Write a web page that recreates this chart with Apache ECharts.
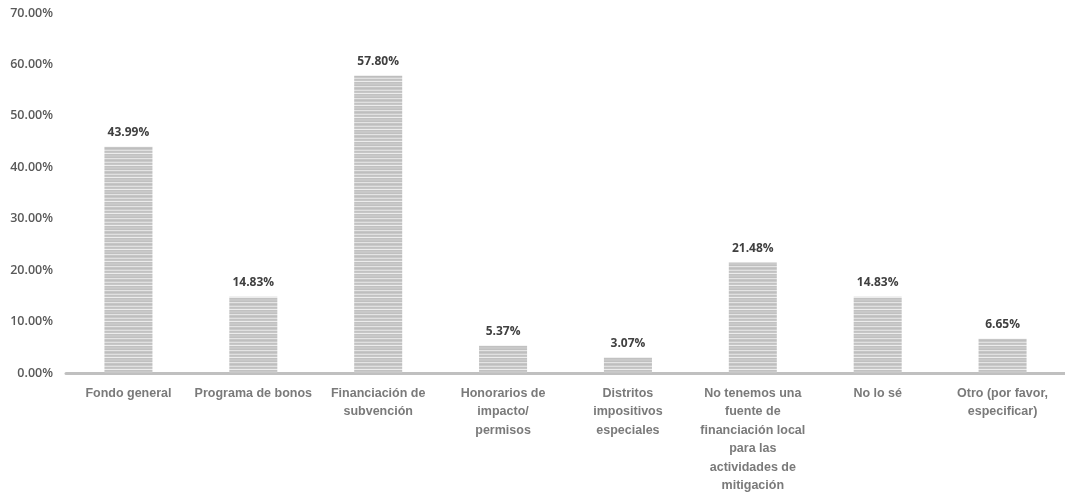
<!DOCTYPE html>
<html>
<head>
<meta charset="utf-8">
<script src="https://cdn.jsdelivr.net/npm/echarts@6/dist/echarts.min.js"></script>
<style>
  html, body { margin: 0; padding: 0; background: #fff; }
  #chart { width: 1065px; height: 492px; }
</style>
</head>
<body>
<div id="chart"></div>
<script>
const categories = [
  'Fondo general',
  'Programa de bonos',
  'Financiación de\nsubvención',
  'Honorarios de\nimpacto/\npermisos',
  'Distritos\nimpositivos\nespeciales',
  'No tenemos una\nfuente de\nfinanciación local\npara las\nactividades de\nmitigación',
  'No lo sé',
  'Otro (por favor,\nespecificar)'
];
const values = [43.99, 14.83, 57.80, 5.37, 3.07, 21.48, 14.83, 6.65];

// striped gray fill like the original
function stripes() {
  const c = document.createElement('canvas');
  c.width = 8; c.height = 12;
  const ctx = c.getContext('2d');
  const rows = ['#c8c8c8', '#c0c0c0', '#e4e4e4', '#c6c6c6', '#bebebe', '#cacaca',
                '#e0e0e0', '#c2c2c2', '#c7c7c7', '#ececec', '#c1c1c1', '#c9c9c9'];
  rows.forEach(function (col, i) {
    ctx.fillStyle = col;
    ctx.fillRect(0, i, 8, 1);
  });
  return c;
}

const chart = echarts.init(document.getElementById('chart'));
chart.setOption({
  animation: false,
  backgroundColor: '#fff',
  grid: { left: 66, right: 0, top: 13, bottom: 119, containLabel: false, outerBoundsMode: 'none' },
  xAxis: {
    type: 'category',
    data: categories,
    axisTick: { show: false },
    axisLine: { lineStyle: { color: '#c0c0c0', width: 3 } },
    axisLabel: {
      interval: 0,
      margin: 11,
      color: '#7a7a7a',
      fontFamily: 'Liberation Sans',
      fontWeight: 'bold',
      fontSize: 12.5,
      lineHeight: 18.5
    }
  },
  yAxis: {
    type: 'value',
    min: 0,
    max: 70,
    interval: 10,
    splitLine: { show: false },
    axisLine: { show: false },
    axisTick: { show: false },
    axisLabel: {
      margin: 13,
      color: '#595959',
      fontFamily: 'Open Sans',
      fontWeight: 600,
      fontSize: 12.5,
      formatter: function (v) { return v.toFixed(2) + '%'; }
    }
  },
  series: [{
    type: 'bar',
    data: values,
    barWidth: 48,
    itemStyle: { color: { image: stripes(), repeat: 'repeat' } },
    label: {
      show: true,
      position: 'top',
      distance: 8,
      color: '#404040',
      fontFamily: 'Open Sans',
      fontWeight: 'bold',
      fontSize: 12,
      formatter: function (p) { return p.value.toFixed(2) + '%'; }
    }
  }]
});
</script>
</body>
</html>
